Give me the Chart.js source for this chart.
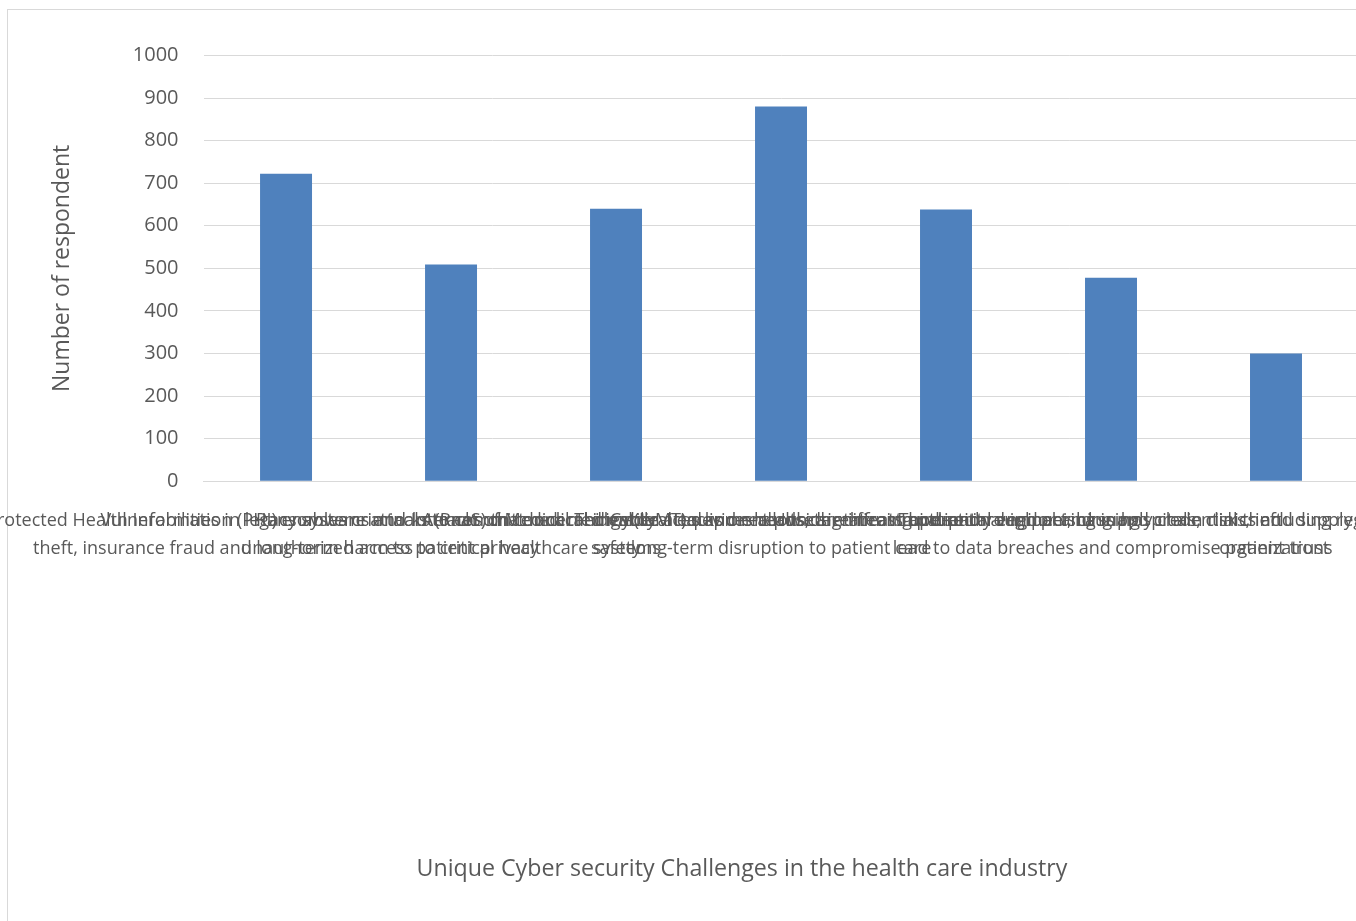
<!DOCTYPE html>
<html lang="en">
<head>
  <meta charset="UTF-8">
  <title>Unique Cyber security Challenges</title>
  <script src="https://cdn.jsdelivr.net/npm/chart.js"></script>
  <style>
    body {
      margin: 0;
      background: #ffffff;
      overflow: hidden;
      width: 1356px;
      height: 921px;
      position: relative;
    }

    .frame {
      position: absolute;
      left: 7px;
      top: 9px;
      width: 1500px;
      height: 1000px;
      border: 1px solid #d9d9d9;
    }

    #chart {
      position: absolute;
      left: -250px;
      top: 9px;
    }
  </style>
</head>
<body>

<div class="frame"></div>
<canvas id="chart" width="1960" height="912"></canvas>

<script>
// categories (wrapped in two lines as in the original, the text overlaps there too)
const challenges = [
  ['Theft of Protected Health Information (PHI) enables criminals to commit medical identity', 'theft, insurance fraud and long-term harm to patient privacy'],
  ['Vulnerabilities in legacy systems and Internet of Medical Things (IoMT) devices allow', 'unauthorized access to critical healthcare systems'],
  ['Ransomware attacks (RaaS) that lock medical devices and records, threatening patient', 'safety'],
  ['Attacks on connected medical equipment pose significant operational impact, causing', 'long-term disruption to patient care'],
  ['Cyber attacks on healthcare infrastructure through phishing and credential theft'],
  ['Insider threats and social engineering in hospitals, clinics and supply chain that', 'lead to data breaches and compromise patient trust'],
  ['Third-party vendor and supply chain risks, including regulatory pressure across healthcare', 'organizations']
];

const respondents = [722, 509, 640, 880, 638, 478, 300];

const yTicks = [0, 100, 200, 300, 400, 500, 600, 700, 800, 900, 1000];

const xTitle = 'Unique Cyber security Challenges in the health care industry';
const yTitle = 'Number of respondent';

const textGrey = '#595959';
const gridGrey = '#d9d9d9';

// x title is centred on the whole chart box, not on the plot, so it is drawn here
const xTitlePlugin = {
  id: 'xTitle',
  afterDraw(chart) {
    const c = chart.ctx;
    c.save();
    c.font = '23.2px "Open Sans"';
    c.fillStyle = textGrey;
    c.textAlign = 'center';
    c.textBaseline = 'middle';
    c.fillText(xTitle, 992, 860);
    c.restore();
  }
};

new Chart(document.getElementById('chart'), {
  type: 'bar',
  data: {
    labels: challenges,
    datasets: [{
      data: respondents,
      backgroundColor: '#4f81bd',
      borderWidth: 0,
      categoryPercentage: 1,
      barPercentage: 0.315
    }]
  },
  options: {
    responsive: false,
    animation: false,
    layout: {
      padding: { left: 250, right: 351.5, top: 46.5, bottom: 340 }
    },
    plugins: {
      legend: { display: false },
      tooltip: { enabled: false }
    },
    scales: {
      x: {
        grid: { display: false },
        border: { display: true, color: gridGrey, width: 1 },
        ticks: {
          autoSkip: false,
          maxRotation: 0,
          minRotation: 0,
          padding: 18,
          color: textGrey,
          font: { family: 'Open Sans', size: 18, lineHeight: 1.55 }
        }
      },
      y: {
        min: 0,
        max: 1000,
        afterBuildTicks(scale) {
          scale.ticks = yTicks.map(v => ({ value: v }));
        },
        grid: { color: gridGrey, lineWidth: 1, drawTicks: false },
        border: { display: false },
        ticks: {
          padding: 25,
          color: textGrey,
          font: { family: 'Open Sans', size: 20 },
          callback: v => String(v)
        },
        title: {
          display: true,
          text: yTitle,
          color: textGrey,
          padding: { top: 48.2, bottom: 32 },
          font: { family: 'Open Sans', size: 23 }
        }
      }
    }
  },
  plugins: [xTitlePlugin]
});
</script>

</body>
</html>
